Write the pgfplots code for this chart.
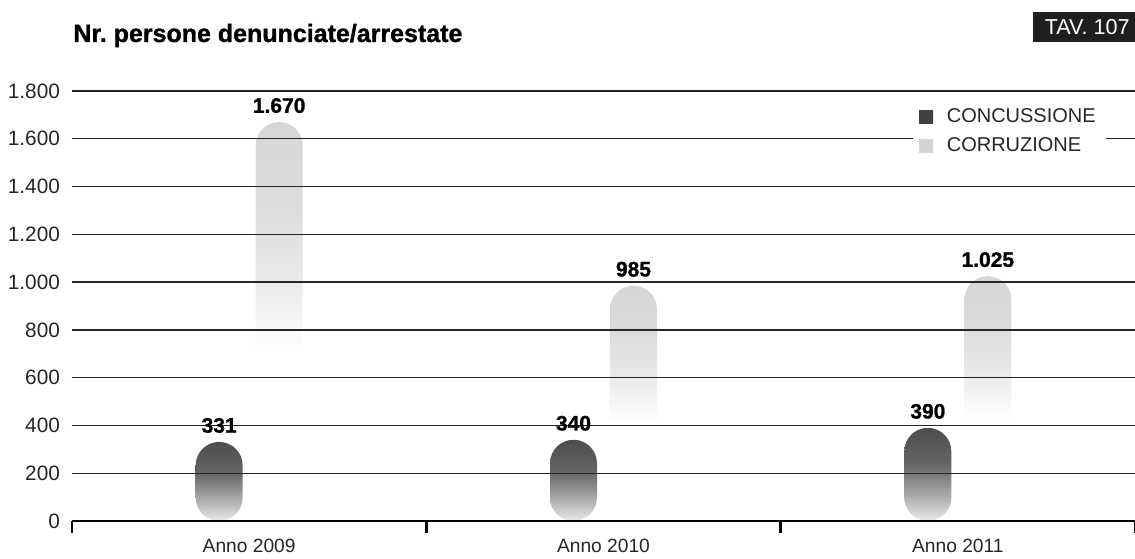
\documentclass[border=0pt]{standalone}
\usepackage{pgfplots}
\pgfplotsset{compat=1.18}
\usepackage{fontspec}
\setmainfont{Liberation Sans}
\newfontfamily\heavyfont[FakeBold=1.2]{Liberation Sans Bold}
\frenchspacing

\pgfdeclareverticalshading{darkbar}{100bp}{color(0bp)=(black!8); color(25bp)=(black!8); color(38bp)=(black!32); color(55bp)=(black!60); color(75bp)=(black!70); color(100bp)=(black!70)}
\pgfdeclareverticalshading{lightbar}{100bp}{color(0bp)=(white); color(25bp)=(white); color(46bp)=(white); color(56bp)=(black!9); color(65bp)=(black!14); color(75bp)=(black!16); color(100bp)=(black!16)}

\pgfplotsset{
  concbar/.style={bar shift=-15pt, draw=none, shade, shading=darkbar, rounded corners=11.75pt,
    legend image code/.code={\node[sharp corners, shading=axis, top color=black!75, bottom color=black!75, draw=none, minimum width=7pt, minimum height=6.5pt, inner sep=0pt, anchor=west] at (2pt,0pt) {}; \path (14pt,0pt);}},
  corrbar/.style={bar shift=15pt, draw=none, shade, shading=lightbar, rounded corners=11.75pt,
    legend image code/.code={\node[sharp corners, shading=axis, top color=black!17, bottom color=black!17, draw=none, minimum width=7pt, minimum height=6.5pt, inner sep=0pt, anchor=west] at (2pt,0pt) {}; \path (14pt,0pt);}},
}

\begin{document}
\begin{tikzpicture}
\begin{axis}[
  at={(0,0)}, anchor=south west,
  scale only axis, width=531.5pt, height=215pt,
  xmin=-0.5, xmax=2.5, ymin=0, ymax=1800,
  axis on top,
  axis x line*=bottom, axis y line*=left,
  y axis line style={draw=none},
  x axis line style={line width=1.4pt, black},
  ytick={0,200,...,1800},
  ytick style={draw=none},
  ymajorgrids, grid style={line width=0.7pt, black!85},
  yticklabel style={font=\fontsize{10.4}{12}\selectfont, text=black!85, xshift=3.5pt},
  xtick={-0.5,0.5,1.5,2.5}, xticklabels={},
  tick align=outside, major tick length=6pt,
  xtick style={line width=1.2pt, black},
  extra x ticks={0,1,2},
  extra x tick labels={Anno 2009,Anno 2010,Anno 2011},
  extra x tick style={major tick length=0pt, xtick style={draw=none}},
  xticklabel style={font=\fontsize{9.6}{11}\selectfont, text=black!85, yshift=-5.5pt},
  ybar, bar width=23.5pt,
  nodes near coords,
  every node near coord/.append style={font=\heavyfont\fontsize{10.5}{12}\selectfont, text=black, yshift=1pt},
  legend style={at={(0.791,0.979)}, anchor=north west, draw=none, fill=white,
    font=\fontsize{10}{12}\selectfont, text=black!85, row sep=2pt},
  legend cell align=left,
  /pgf/number format/1000 sep={.},
  /pgf/number format/assume math mode=true,
]
% CONCUSSIONE: 2009, CORRUZIONE: 2009 (legend entries)
\addplot[concbar] coordinates {(0,331)};
\addlegendentry{CONCUSSIONE}
\addplot[corrbar] coordinates {(0,1670)};
\addlegendentry{CORRUZIONE}
% 2010 and 2011 (one plot per bar so that each bar gets its own gradient)
\addplot[concbar, forget plot] coordinates {(1,340)};
\addplot[concbar, forget plot] coordinates {(2,390)};
\addplot[corrbar, forget plot] coordinates {(1,985)};
\addplot[corrbar, forget plot] coordinates {(2,1025)};
\end{axis}
\node[anchor=base west, font=\heavyfont\fontsize{12.5}{15}\selectfont, inner sep=0pt] at (0.5pt,239.5pt) {Nr. persone denunciate/arrestate};
\fill[black!88] (480.5pt,239.5pt) rectangle (531.5pt,254.5pt);
\node[text=white, anchor=base east, font=\fontsize{10.8}{13}\selectfont, inner sep=0pt] at (529pt,243pt) {TAV. 107};
\pgfresetboundingbox
\useasboundingbox (-36pt,-18.5pt) rectangle (531.5pt,260.5pt);
\end{tikzpicture}
\end{document}
